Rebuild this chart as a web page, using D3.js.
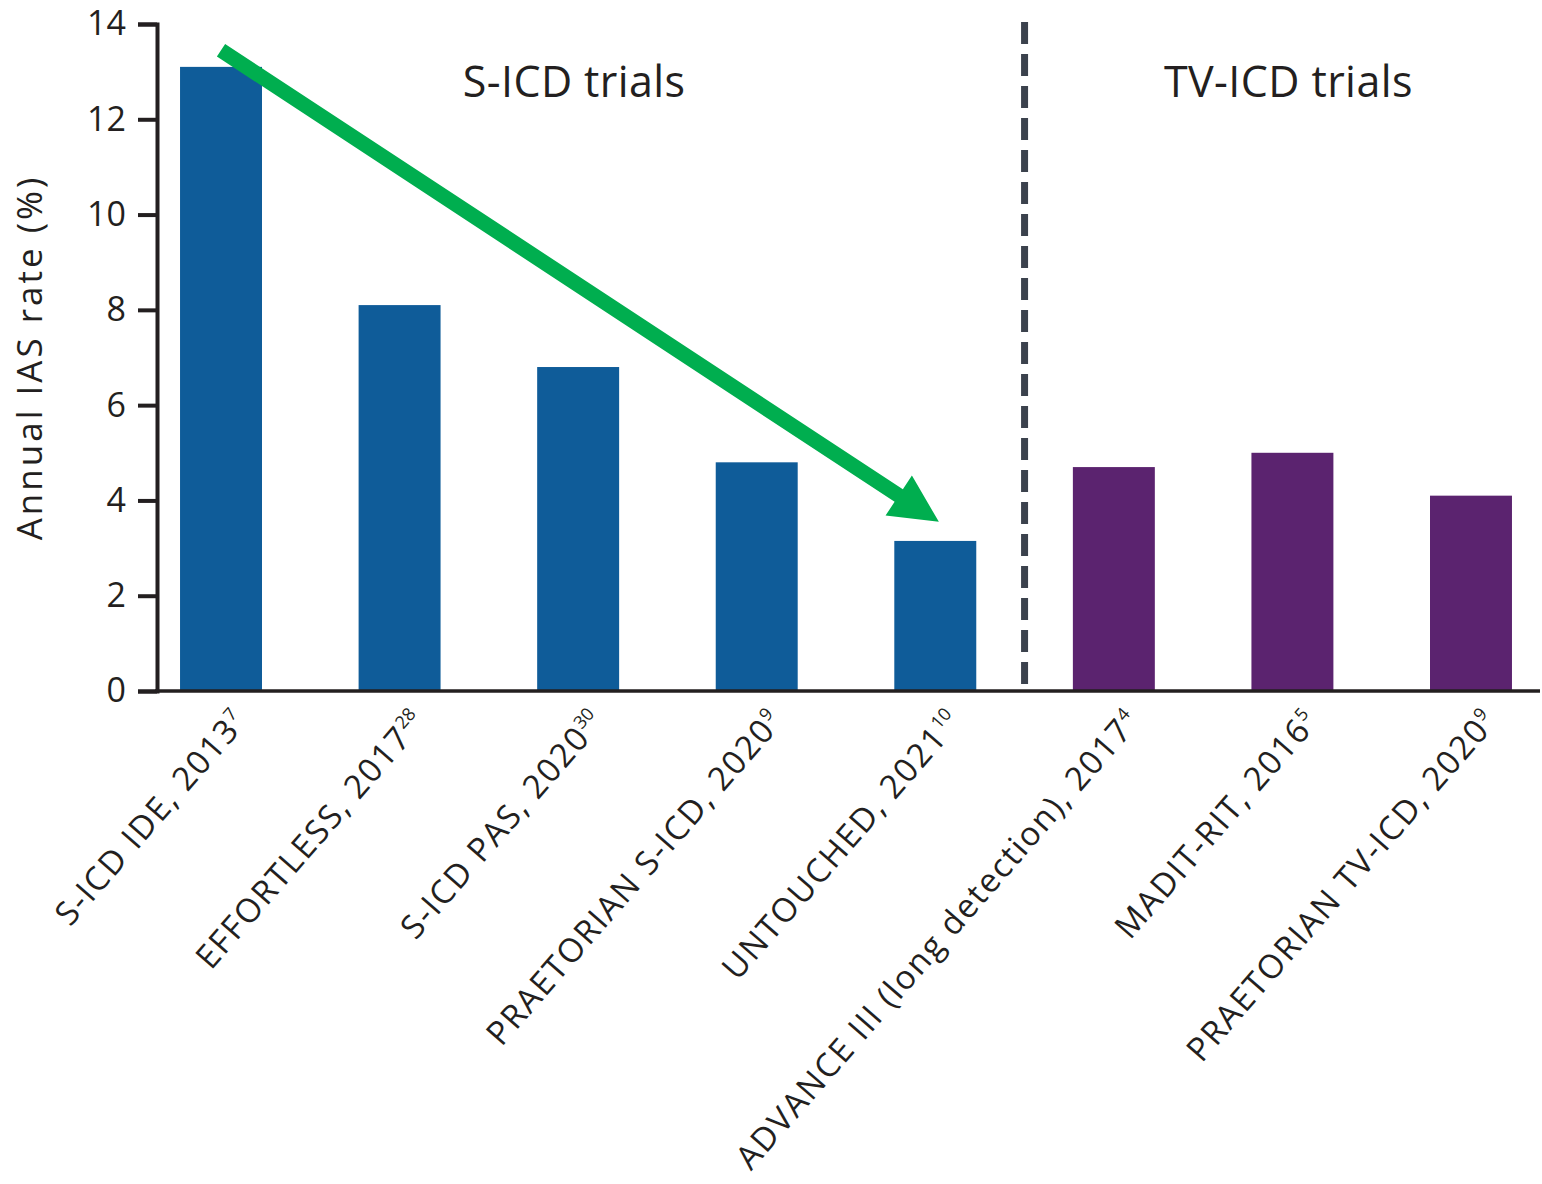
<!DOCTYPE html>
<html>
<head>
<meta charset="utf-8">
<script src="https://cdn.jsdelivr.net/npm/d3@7"></script>
<style>
  html, body { margin: 0; padding: 0; background: #ffffff; }
  svg { display: block; }
  text { font-family: "Open Sans", "Noto Sans", sans-serif; fill: #231f20; }
</style>
</head>
<body>
<svg id="chart" width="1542" height="1184"></svg>
<script>
// Trials, in plotting order
const trials = [
  "S-ICD IDE, 2013",
  "EFFORTLESS, 2017",
  "S-ICD PAS, 2020",
  "PRAETORIAN S-ICD, 2020",
  "UNTOUCHED, 2021",
  "ADVANCE III (long detection), 2017",
  "MADIT-RIT, 2016",
  "PRAETORIAN TV-ICD, 2020"
];
// Reference numbers shown as superscripts
const refs = ["7", "28", "30", "9", "10", "4", "5", "9"];
// Annual inappropriate shock rate (%)
const iasRates = [13.1, 8.1, 6.8, 4.8, 3.15, 4.7, 5.0, 4.1];
// Device group of each trial
const deviceGroup = ["S-ICD", "S-ICD", "S-ICD", "S-ICD", "S-ICD", "TV-ICD", "TV-ICD", "TV-ICD"];
const groupTitles = { "S-ICD": "S-ICD trials", "TV-ICD": "TV-ICD trials" };
const yTicks = [0, 2, 4, 6, 8, 10, 12, 14];
// Trend arrow: [category position, rate] at tail and tip
const trendFrom = [0, 13.45];
const trendTo = [4.02, 3.55];

const colors = { "S-ICD": "#0f5c99", "TV-ICD": "#5b236f" };

const svg = d3.select("#chart");
const axisLeftX = 157, axisRightX = 1540;
const plotTop = 24, plotBottom = 691;

const x = d3.scaleBand()
  .domain(trials)
  .range([axisLeftX, 1535])
  .paddingInner(0.541)
  .paddingOuter(0.129);

const y = d3.scaleLinear().domain([0, 14]).range([plotBottom, plotTop]);

const center = i => x(trials[i]) + x.bandwidth() / 2;
const posX = p => {
  const i = Math.floor(p), f = p - i;
  return center(i) + f * x.step();
};

// Bars
svg.append("g")
  .selectAll("rect")
  .data(trials)
  .join("rect")
  .attr("x", d => x(d))
  .attr("width", x.bandwidth())
  .attr("y", (d, i) => y(iasRates[i]))
  .attr("height", (d, i) => y(0) - y(iasRates[i]))
  .attr("fill", (d, i) => colors[deviceGroup[i]]);

// Divider between device groups
const lastS = deviceGroup.lastIndexOf("S-ICD");
const divX = (x(trials[lastS]) + x.bandwidth() + x(trials[lastS + 1])) / 2;
svg.append("line")
  .attr("x1", divX).attr("x2", divX)
  .attr("y1", plotTop - 2).attr("y2", plotBottom)
  .attr("stroke", "#3b424d")
  .attr("stroke-width", 7)
  .attr("stroke-dasharray", "22 10");

// Group titles, centred over each group
Object.keys(groupTitles).forEach(g => {
  const idx = deviceGroup.map((d, i) => d === g ? i : -1).filter(i => i >= 0);
  const cx = (center(idx[0]) + center(idx[idx.length - 1])) / 2;
  svg.append("text")
    .attr("x", cx - 4).attr("y", 97)
    .attr("text-anchor", "middle")
    .attr("font-size", 43)
    .attr("letter-spacing", 0.4)
    .text(groupTitles[g]);
});

// Y axis
const yAxis = svg.append("g")
  .attr("transform", `translate(${axisLeftX},0)`)
  .call(d3.axisLeft(y).tickValues(yTicks).tickSize(19).tickPadding(12).tickFormat(d3.format("d")));
yAxis.select(".domain").attr("stroke", "#231f20").attr("stroke-width", 4);
yAxis.selectAll(".tick line").attr("stroke", "#231f20").attr("stroke-width", 4);
yAxis.selectAll(".tick text")
  .attr("font-size", 34)
  .attr("fill", "#231f20")
  .style("font-family", "'Open Sans', 'Noto Sans', sans-serif");

// X axis baseline
svg.append("line")
  .attr("x1", axisLeftX - 2).attr("x2", axisRightX)
  .attr("y1", plotBottom).attr("y2", plotBottom)
  .attr("stroke", "#231f20").attr("stroke-width", 3.5);

// Y axis title
svg.append("text")
  .attr("transform", `translate(42,${(plotTop + plotBottom) / 2}) rotate(-90)`)
  .attr("text-anchor", "middle")
  .attr("font-size", 35)
  .attr("letter-spacing", 3)
  .text("Annual IAS rate (%)");

// Category labels with reference superscripts
const labels = svg.append("g")
  .selectAll("text")
  .data(trials)
  .join("text")
  .attr("text-anchor", "end")
  .attr("font-size", 33)
  .attr("letter-spacing", 1.7)
  .attr("transform", (d, i) => `translate(${center(i) + 27},${plotBottom + 32}) rotate(-49)`);
labels.append("tspan").text(d => d);
labels.append("tspan")
  .attr("font-size", 18)
  .attr("letter-spacing", 0)
  .attr("dy", -13)
  .text((d, i) => refs[i]);

// Trend arrow across the S-ICD trials
const S = [posX(trendFrom[0]), y(trendFrom[1])];
const T = [posX(trendTo[0]), y(trendTo[1])];
const len = Math.hypot(T[0] - S[0], T[1] - S[1]);
const ux = (T[0] - S[0]) / len, uy = (T[1] - S[1]) / len;
const nx = -uy, ny = ux;
const shaftW = 15, headW = 48, headL = 48;
const B = [T[0] - ux * headL, T[1] - uy * headL];
const pts = [
  [S[0] + nx * shaftW / 2, S[1] + ny * shaftW / 2],
  [B[0] + nx * shaftW / 2, B[1] + ny * shaftW / 2],
  [B[0] + nx * headW / 2, B[1] + ny * headW / 2],
  T,
  [B[0] - nx * headW / 2, B[1] - ny * headW / 2],
  [B[0] - nx * shaftW / 2, B[1] - ny * shaftW / 2],
  [S[0] - nx * shaftW / 2, S[1] - ny * shaftW / 2]
];
svg.append("path")
  .attr("d", d3.line()(pts) + "Z")
  .attr("fill", "#00ae4f");
</script>
</body>
</html>
